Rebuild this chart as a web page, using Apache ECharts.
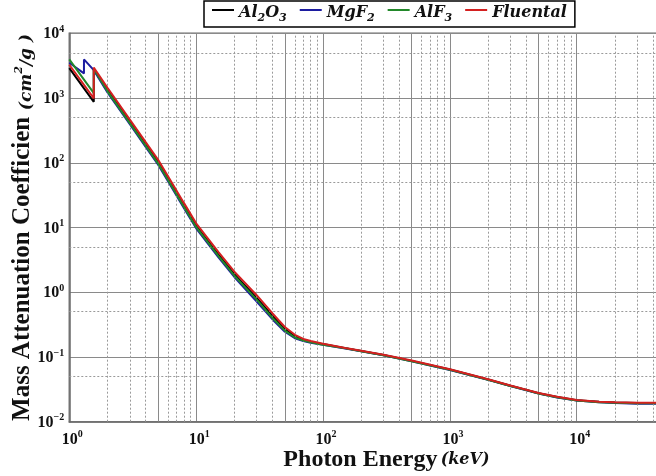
<!DOCTYPE html>
<html><head><meta charset="utf-8">
<script src="https://cdn.jsdelivr.net/npm/echarts@6/dist/echarts.min.js"></script>
<style>html,body{margin:0;padding:0;background:#fff;overflow:hidden}#chart{width:704px;height:476px}</style>
</head><body><div id="chart"></div>
<script>
// Photon energies (keV); repeated entries are the Mg K edge (1.305 keV) and the Al K edge (1.5596 keV)
const energyKeV = [1, 1.305, 1.305, 1.5596, 1.5596, 2, 3, 4, 5, 6, 8, 10, 15, 20, 30, 40, 50, 60, 70, 80, 100,
  150, 200, 300, 500, 1000, 2000, 3000, 4000, 5000, 7000, 10000, 15000, 20000, 30000, 50000, 100000];

// Mass attenuation coefficients (cm^2/g)
const al2o3 = [2900, 1413, 1413, 873, 2750, 1330, 430, 192, 103, 57, 22, 10.6, 3.8, 1.9, 0.82, 0.43, 0.27, 0.21, 0.185, 0.172, 0.158,
  0.137, 0.124, 0.107, 0.087, 0.064, 0.045, 0.036, 0.031, 0.0275, 0.024, 0.0215, 0.0203, 0.0198, 0.0195, 0.0195, 0.0198];
const mgf2 = [3500, 2400, 3950, 2700, 2700, 1220, 395, 176, 94, 52, 20, 9.7, 3.45, 1.72, 0.72, 0.38, 0.245, 0.195, 0.176, 0.166, 0.154,
  0.135, 0.123, 0.106, 0.086, 0.063, 0.0445, 0.0356, 0.0307, 0.0272, 0.0237, 0.0212, 0.0199, 0.0194, 0.019, 0.019, 0.0192];
const alf3 = [3950, 1927, 1927, 1190, 2800, 1270, 410, 183, 98, 54, 21, 10.1, 3.6, 1.8, 0.77, 0.40, 0.255, 0.2, 0.179, 0.168, 0.155,
  0.136, 0.123, 0.106, 0.086, 0.0632, 0.0446, 0.0357, 0.0308, 0.0273, 0.0238, 0.0213, 0.02, 0.0196, 0.0192, 0.0192, 0.0195];
const fluental = [3270, 1595, 1595, 986, 2950, 1440, 465, 208, 112, 62, 24, 11.6, 4.15, 2.08, 0.9, 0.47, 0.29, 0.22, 0.19, 0.176, 0.16,
  0.138, 0.125, 0.108, 0.088, 0.0645, 0.0452, 0.0362, 0.0312, 0.0277, 0.0242, 0.0217, 0.0204, 0.0199, 0.0196, 0.0196, 0.0199];

const seriesNames = ['Al2O3', 'MgF2', 'AlF3', 'Fluental'];
const seriesValues = [al2o3, mgf2, alf3, fluental];
const seriesColors = ['#000000', '#1c1ca0', '#22882a', '#d42020'];
const legendRich = {
  'Al2O3': '{t|Al}{d|2}{t|O}{d|3}',
  'MgF2': '{t|MgF}{d|2}',
  'AlF3': '{t|AlF}{d|3}',
  'Fluental': '{t|Fluental}'
};

// Axis ranges
const xRange = [1, 100000];
const yRange = [0.01, 10000];

// Intermediate grid lines inside each decade: 5x solid, the rest dotted
const minorFactors = [2, 3, 4, 6, 7, 8, 9];
const halfFactor = 5;

const timesFont = '"Liberation Serif", "Times New Roman", serif';
const mathFont = '"DejaVu Serif", "Liberation Serif", serif';

function powerLabel(v) {
  const e = Math.round(Math.log10(v));
  const s = e < 0 ? '\u2212' + (-e) : String(e);
  return '{b|10}{s|' + s + '}';
}

const dotted = { type: [2, 2], color: '#9a9a9a', width: 1 };
const solid = { type: 'solid', color: '#8a8a8a', width: 1 };
const gridLines = [];
for (let e = 0; e < 5; e++) {
  const p = Math.pow(10, e);
  minorFactors.forEach(f => gridLines.push({ xAxis: f * p, lineStyle: dotted }));
  gridLines.push({ xAxis: halfFactor * p, lineStyle: solid });
}
for (let e = -2; e < 4; e++) {
  gridLines.push({ yAxis: halfFactor * Math.pow(10, e), lineStyle: dotted });
}

const chart = echarts.init(document.getElementById('chart'), null, { renderer: 'canvas' });

const series = [{
  name: 'grid',
  type: 'line',
  data: [],
  z: 1,
  silent: true,
  markLine: {
    silent: true,
    symbol: ['none', 'none'],
    label: { show: false },
    animation: false,
    data: gridLines
  }
}];
seriesNames.forEach((n, i) => {
  series.push({
    name: n,
    type: 'line',
    z: 3 + i,
    showSymbol: false,
    symbol: 'none',
    animation: false,
    lineStyle: { width: 2, color: seriesColors[i] },
    itemStyle: { color: seriesColors[i] },
    data: energyKeV.map((x, k) => [x, seriesValues[i][k]])
  });
});

chart.setOption({
  backgroundColor: '#ffffff',
  animation: false,
  grid: {
    left: 69.3, top: 33.3, right: 0.4, bottom: 54.3,
    outerBoundsMode: 'none',
    containLabel: false,
    show: true, borderColor: '#6a6a6a', borderWidth: 1.5, backgroundColor: 'transparent'
  },
  legend: {
    data: seriesNames,
    left: 204, top: 1,
    orient: 'horizontal',
    backgroundColor: '#ffffff',
    borderColor: '#000000',
    borderWidth: 1.5,
    padding: [4, 8, 3, 8],
    itemGap: 13,
    itemWidth: 22,
    itemHeight: 2,
    icon: 'rect',
    formatter: n => legendRich[n],
    textStyle: {
      rich: {
        t: { fontFamily: mathFont, fontSize: 16, fontWeight: 'bold', fontStyle: 'italic', color: '#111', lineHeight: 22, verticalAlign: 'bottom' },
        d: { fontFamily: mathFont, fontSize: 11, fontWeight: 'bold', fontStyle: 'italic', color: '#111', lineHeight: 12, verticalAlign: 'bottom', padding: [0, 0, -3, 0] }
      }
    }
  },
  xAxis: {
    type: 'log',
    logBase: 10,
    min: xRange[0],
    max: xRange[1],
    name: '{b|Photon Energy} {i|(keV)}',
    nameLocation: 'middle',
    nameGap: 24,
    nameMoveOverlap: false,
    nameTextStyle: {
      rich: {
        b: { fontFamily: timesFont, fontSize: 24, fontWeight: 'bold', color: '#111', lineHeight: 26, verticalAlign: 'bottom' },
        i: { fontFamily: mathFont, fontSize: 16, fontWeight: 'bold', fontStyle: 'italic', color: '#111', lineHeight: 20, verticalAlign: 'bottom', padding: [0, 0, 4, 0] }
      }
    },
    axisLine: { show: true, lineStyle: { color: '#6a6a6a', width: 1.5 } },
    axisTick: { show: false },
    splitLine: { show: true, lineStyle: solid },
    axisLabel: {
      margin: 8,
      formatter: v => '{p|}' + powerLabel(v),
      rich: {
        p: { width: 6 },
        b: { fontFamily: timesFont, fontSize: 16, fontWeight: 'bold', color: '#111', lineHeight: 18, verticalAlign: 'bottom' },
        s: { fontFamily: timesFont, fontSize: 10, fontWeight: 'bold', color: '#111', lineHeight: 10, verticalAlign: 'top' }
      }
    }
  },
  yAxis: {
    type: 'log',
    logBase: 10,
    min: yRange[0],
    max: yRange[1],
    name: '{b|Mass Attenuation Coefficien}  {i|(cm}{s|2}{i|/g )}',
    nameLocation: 'middle',
    nameRotate: 90,
    nameGap: 34,
    nameMoveOverlap: false,
    nameTextStyle: {
      rich: {
        b: { fontFamily: timesFont, fontSize: 25, fontWeight: 'bold', color: '#111', lineHeight: 26, verticalAlign: 'bottom' },
        i: { fontFamily: mathFont, fontSize: 17, fontWeight: 'bold', fontStyle: 'italic', color: '#111', lineHeight: 26, verticalAlign: 'bottom' },
        s: { fontFamily: mathFont, fontSize: 11, fontWeight: 'bold', fontStyle: 'italic', color: '#111', lineHeight: 12, verticalAlign: 'top', padding: [4, 0, 0, 0] }
      }
    },
    axisLine: { show: true, lineStyle: { color: '#6a6a6a', width: 1.5 } },
    axisTick: { show: false },
    splitLine: { show: true, lineStyle: solid },
    axisLabel: {
      margin: 5,
      formatter: v => powerLabel(v),
      rich: {
        b: { fontFamily: timesFont, fontSize: 16, fontWeight: 'bold', color: '#111', lineHeight: 18, verticalAlign: 'bottom' },
        s: { fontFamily: timesFont, fontSize: 10, fontWeight: 'bold', color: '#111', lineHeight: 10, verticalAlign: 'top' }
      }
    }
  },
  series: series
});
</script>
</body></html>
